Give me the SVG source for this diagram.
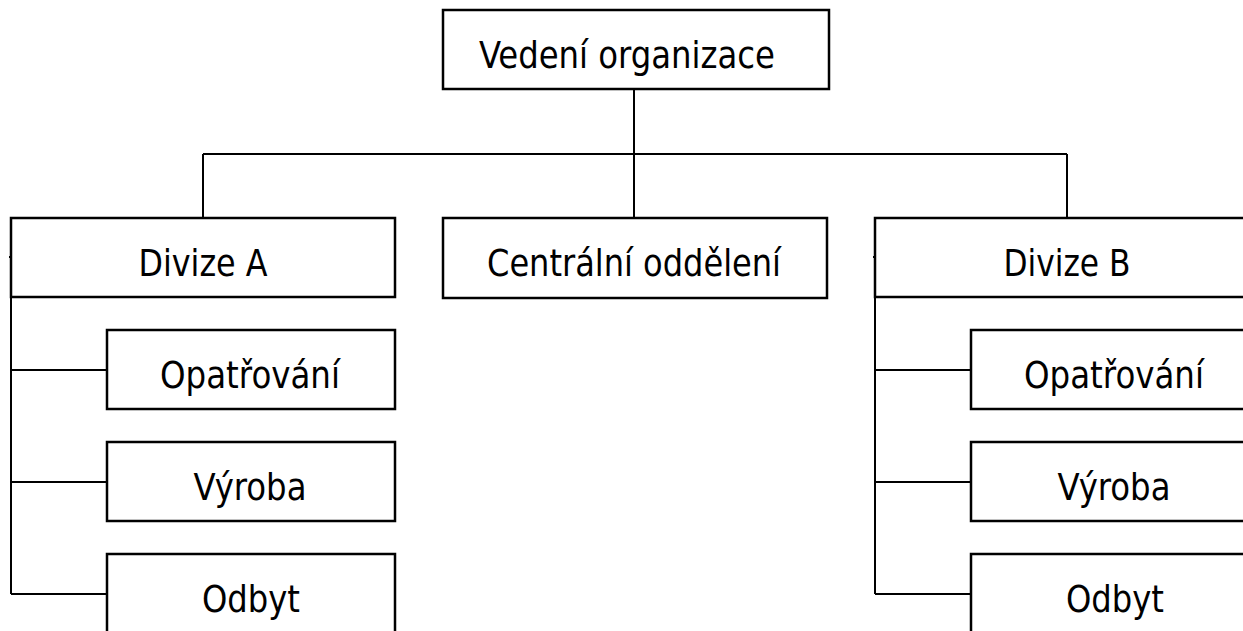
<svg xmlns="http://www.w3.org/2000/svg" width="1243" height="631" viewBox="0 0 1243 631">
<style>
.box{fill:#fff;stroke:#000;stroke-width:2.5}
.ln{fill:none;stroke:#000;stroke-width:2}
.t{font-family:'DejaVu Sans Condensed','DejaVu Sans',sans-serif;font-stretch:condensed;font-size:37.5px;fill:#000;text-anchor:middle}
</style>
<rect width="1243" height="631" fill="#fff"/>
<g id="connectors">
<path class="ln" d="M634 89V154M203 154H1067M203 154V218M634 154V218M1067 154V218"/>
<path class="ln" d="M11 257V594M11 370H107M11 482H110M11 594H107M9 257H13"/>
<path class="ln" d="M875 257V594M875 370H971M875 482H974M875 594H974M873 257H877"/>
</g>
<g id="vedeni"><rect class="box" x="443" y="10" width="386" height="79"/><text class="t" x="627" y="68" textLength="296" lengthAdjust="spacingAndGlyphs">Vedení organizace</text></g>
<g id="divizeA"><rect class="box" x="11" y="218" width="384" height="79"/><text class="t" x="203" y="276" textLength="129" lengthAdjust="spacingAndGlyphs">Divize A</text></g>
<g id="centralni"><rect class="box" x="443" y="218" width="384" height="80"/><text class="t" x="634" y="276" textLength="294" lengthAdjust="spacingAndGlyphs">Centrální oddělení</text></g>
<g id="divizeB"><rect class="box" x="875" y="218" width="384" height="79"/><text class="t" x="1067" y="276" textLength="127" lengthAdjust="spacingAndGlyphs">Divize B</text></g>
<g id="opatA"><rect class="box" x="107" y="330" width="288" height="79"/><text class="t" x="250" y="388" textLength="180" lengthAdjust="spacingAndGlyphs">Opatřování</text></g>
<g id="vyrobaA"><rect class="box" x="107" y="442" width="288" height="79"/><text class="t" x="250" y="500" textLength="113" lengthAdjust="spacingAndGlyphs">Výroba</text></g>
<g id="odbytA"><rect class="box" x="107" y="554" width="288" height="90"/><text class="t" x="251" y="612" textLength="98" lengthAdjust="spacingAndGlyphs">Odbyt</text></g>
<g id="opatB"><rect class="box" x="971" y="330" width="288" height="79"/><text class="t" x="1114" y="388" textLength="180" lengthAdjust="spacingAndGlyphs">Opatřování</text></g>
<g id="vyrobaB"><rect class="box" x="971" y="442" width="288" height="79"/><text class="t" x="1114" y="500" textLength="113" lengthAdjust="spacingAndGlyphs">Výroba</text></g>
<g id="odbytB"><rect class="box" x="971" y="554" width="288" height="90"/><text class="t" x="1115" y="612" textLength="98" lengthAdjust="spacingAndGlyphs">Odbyt</text></g>
</svg>
